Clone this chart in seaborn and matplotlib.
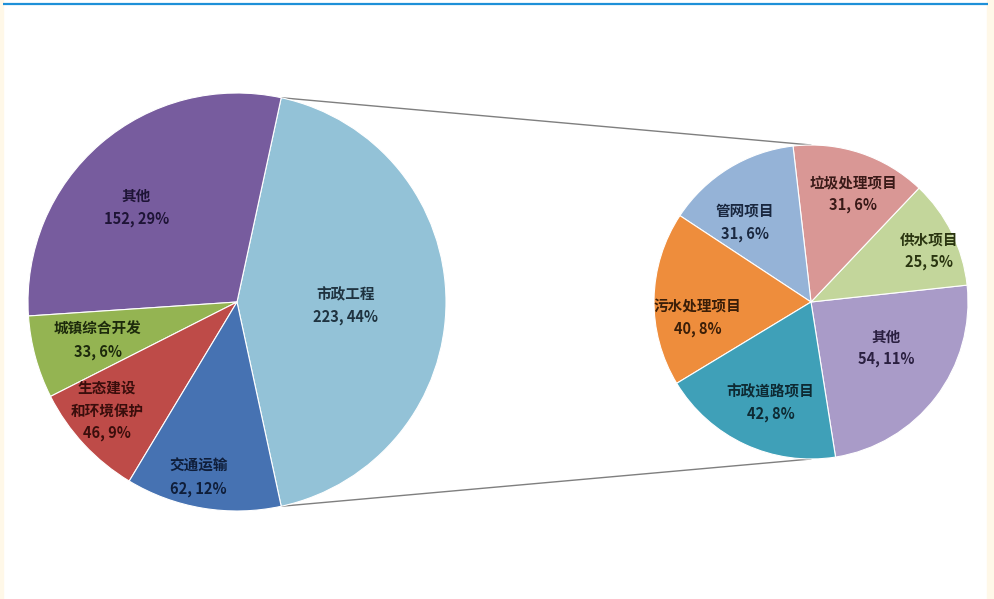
import numpy as np
import matplotlib
matplotlib.use("Agg")
import matplotlib.pyplot as plt
import seaborn as sns
from matplotlib.patches import Rectangle

# ---------------- data ----------------
main_names = ["市政工程", "其他", "城镇综合开发", "生态建设\n和环境保护", "交通运输"]
main_values = [223, 152, 33, 46, 62]
main_pcts = ["44%", "29%", "6%", "9%", "12%"]

sub_names = ["其他", "供水项目", "垃圾处理项目", "管网项目", "污水处理项目", "市政道路项目"]
sub_values = [54, 25, 31, 31, 40, 42]
sub_pcts = ["11%", "5%", "6%", "6%", "8%", "8%"]

# ---------------- style ----------------
sns.set_theme(style="white")
plt.rcParams['font.family'] = ['Noto Sans CJK SC', 'DejaVu Sans']

main_colors = sns.color_palette(["#93C2D7", "#775C9E", "#94B452", "#BE4B48", "#4672B2"])
sub_colors = sns.color_palette(["#A99BC8", "#C3D69B", "#D99795", "#95B3D7", "#EE8D3C", "#3FA0B8"])
main_text = ["#1F3340", "#1E1436", "#1D2A0C", "#3A0E0C", "#0F1E3A"]
sub_text = ["#2A1F40", "#2A3510", "#3A1A18", "#1A2840", "#3A1E08", "#0E2A33"]

# label radius (fraction of radius) and angular nudge (deg)
main_lr = [0.52, 0.66, 0.69, 0.81, 0.86]
main_da = [-2, 6, 0, -3, -3]
sub_lr = [0.56, 0.82, 0.74, 0.66, 0.73, 0.69]
sub_da = [6, -3, -3, 8, 9, 3]

W, H = 995, 599
fig = plt.figure(figsize=(W / 100, H / 100), dpi=100)
ax = fig.add_axes([0, 0, 1, 1])
ax.set_xlim(0, W)
ax.set_ylim(0, H)
ax.set_aspect('equal')
ax.axis('off')

# frame decorations
ax.add_patch(Rectangle((0, 0), 3, H, color="#FFF8E8", zorder=0))
ax.add_patch(Rectangle((987, 0), 8, H, color="#FFF8E8", zorder=0))
ax.plot([3, 988], [H - 3.5, H - 3.5], color="#1E90D8", lw=1.6, solid_capstyle='butt')

c1, r1 = (237, 297), 209
c2, r2 = (811, 297), 157

share = main_values[0] / sum(main_values)
start1 = -share * 180

w1, _ = ax.pie(main_values, colors=main_colors, startangle=start1, counterclock=True,
               center=c1, radius=r1, frame=True,
               wedgeprops=dict(edgecolor="white", linewidth=0.8))
w2, _ = ax.pie(sub_values, colors=sub_colors, startangle=-81, counterclock=True,
               center=c2, radius=r2, frame=True,
               wedgeprops=dict(edgecolor="white", linewidth=0.8))
ax.set_xlim(0, W)
ax.set_ylim(0, H)
ax.axis('off')


def put_labels(wedges, names, vals, pcts, center, radius, lrs, das, tcolors):
    for wd, n, v, p, lr, da, tc in zip(wedges, names, vals, pcts, lrs, das, tcolors):
        ang = np.deg2rad((wd.theta1 + wd.theta2) / 2 + da)
        x = center[0] + lr * radius * np.cos(ang)
        y = center[1] + lr * radius * np.sin(ang)
        ax.text(x, y, f"{n}\n{v}, {p}", ha='center', va='center', fontsize=10.5,
                fontweight='bold', color=tc, linespacing=1.5)


put_labels(w1, main_names, main_values, main_pcts, c1, r1, main_lr, main_da, main_text)
put_labels(w2, sub_names, sub_values, sub_pcts, c2, r2, sub_lr, sub_da, sub_text)

# connector lines
big = w1[0]
for th, th2 in [(big.theta2, 90), (big.theta1, -90)]:
    a = np.deg2rad(th)
    b = np.deg2rad(th2)
    x0, y0 = c1[0] + r1 * np.cos(a), c1[1] + r1 * np.sin(a)
    x1, y1 = c2[0] + r2 * np.cos(b), c2[1] + r2 * np.sin(b)
    ax.plot([x0, x1], [y0, y1], color="#7F7F7F", lw=1.0, zorder=0.5)

fig.savefig("out.png", dpi=100, facecolor="white")
